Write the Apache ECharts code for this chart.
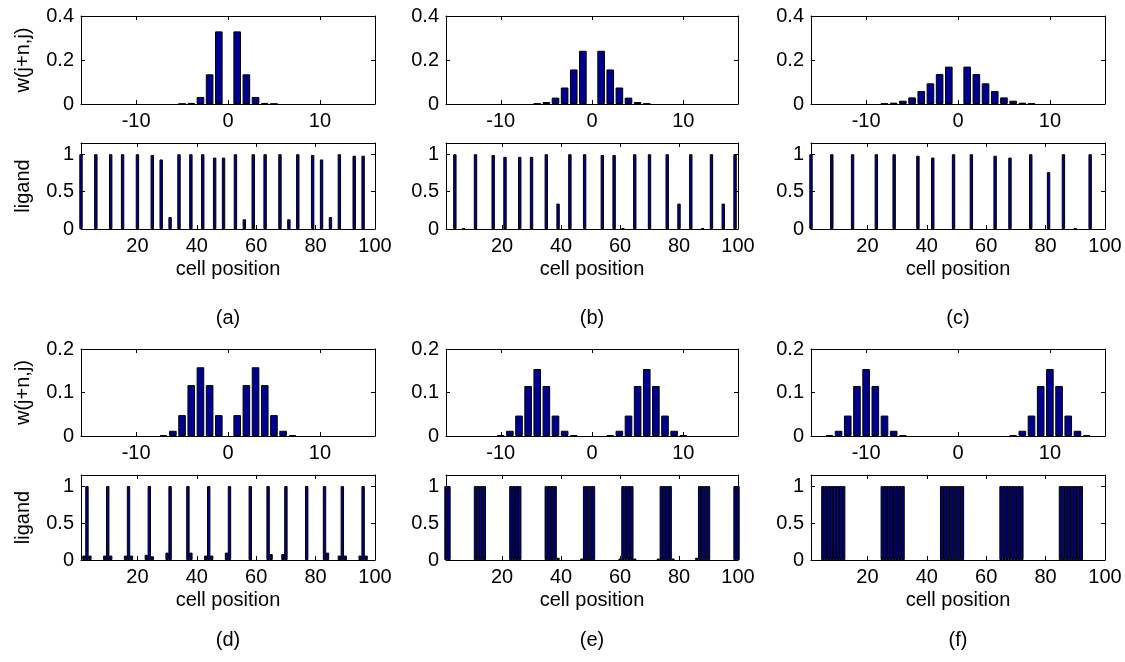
<!DOCTYPE html>
<html>
  <head>
    <meta charset="utf-8" />
    <script src="https://cdn.jsdelivr.net/npm/echarts@6.0.0/dist/echarts.min.js"></script>
    <style>
      html, body { margin: 0; padding: 0; background: #fff; }
      #main { width: 1125px; height: 662px; }
    </style>
  </head>

  <body>
    <div id="main"></div>
    <script type="text/javascript">
      // neighbour offset n for the weight plots
      var wPos = [-15,-14,-13,-12,-11,-10,-9,-8,-7,-6,-5,-4,-3,-2,-1,0,1,2,3,4,5,6,7,8,9,10,11,12,13,14,15];

      // weights w(j+n,j), one value per entry of wPos
      var wA = [0,0,0,0,0,0,0,0,0,0, 0.001,0.005,0.032,0.135,0.33, 0, 0.33,0.135,0.032,0.005,0.001, 0,0,0,0,0,0,0,0,0,0];
      var wB = [0,0,0,0,0,0,0,0,0, 0.002,0.009,0.029,0.075,0.157,0.242, 0, 0.242,0.157,0.075,0.029,0.009,0.002, 0,0,0,0,0,0,0,0,0];
      var wC = [0,0,0,0,0,0,0, 0.002,0.006,0.015,0.03,0.059,0.094,0.136,0.17, 0, 0.17,0.136,0.094,0.059,0.03,0.015,0.006,0.002, 0,0,0,0,0,0,0];
      var wD = [0,0,0,0,0,0,0,0, 0.002,0.012,0.048,0.117,0.158,0.117,0.048, 0, 0.048,0.117,0.158,0.117,0.048,0.012,0.002, 0,0,0,0,0,0,0,0];
      var wE = [0,0,0,0,0, 0.002,0.012,0.047,0.115,0.154,0.115,0.047,0.012,0.002, 0,0,0, 0.002,0.012,0.047,0.115,0.154,0.115,0.047,0.012,0.002, 0,0,0,0,0];
      var wF = [0, 0.002,0.012,0.047,0.115,0.154,0.115,0.047,0.012,0.002, 0,0,0,0,0,0,0,0,0,0,0, 0.002,0.012,0.047,0.115,0.154,0.115,0.047,0.012,0.002, 0];

      // ligand per cell position (cells not listed are empty)
      var ligPosA = [1,6,11,15,20,25,28,31,34,38,42,46,49,53,56,59,63,68,71,74,79,82,85,88,93,96];
      var ligValA = [1,1,1,1,1,0.99,0.93,0.16,1,1,1,0.955,0.955,1,0.13,1,1,1,0.13,1,0.99,0.93,0.16,1,0.98,0.98];

      var ligPosB = [4,7,11,17,21,26,30,35,39,43,48,54,58,61,65,70,76,80,84,88,91,95,99];
      var ligValB = [1,0.01,1,0.99,0.965,0.965,0.965,1,0.34,1,1,0.99,0.99,0.01,1,1,1,0.34,1,0.01,1,0.34,1];

      var ligPosC = [1,8,15,23,29,37,42,49,55,63,68,75,81,86,90,95];
      var ligValC = [1,1,1,1,1,0.98,0.955,1,1,0.98,0.955,1,0.76,1,0.01,1];

      var ligPosD = [2,3,4, 9,10,11, 16,17,18, 23,24,25, 30,31, 37,38, 43,44,45, 50,51, 58, 64,65, 69,70, 77, 83,84, 88,89,90, 95,96,97];
      var ligValD = [0.06,1,0.06, 0.06,1,0.06, 0.06,1,0.06, 0.07,1,0.05, 0.1,1, 1,0.1, 0.06,1,0.06, 0.1,1, 1, 1,0.08, 0.08,1, 1, 1,0.1, 0.06,1,0.06, 0.06,1,0.06];

      var ligPosE = [1,2, 11,12,13,14, 23,24,25,26, 35,36,37,38,39, 47,48,49,50,51, 60,61,62,63,64,65, 73,74,75,76,77,78, 86,87,88,89,90, 99,100];
      var ligValE = [1,1, 1,1,1,1, 1,1,1,1, 1,1,1,1,0.03, 0.02,1,1,1,1, 0.02,1,1,1,1,0.02, 0.02,1,1,1,1,0.02, 0.03,1,1,1,1, 1,1];

      var ligPosF = [5,6,7,8,9,10,11,12, 25,26,27,28,29,30,31,32, 45,46,47,48,49,50,51,52, 65,66,67,68,69,70,71,72, 85,86,87,88,89,90,91,92];
      var ligValF = [1,1,1,1,1,1,1,1, 1,1,1,1,1,1,1,1, 1,1,1,1,1,1,1,1, 1,1,1,1,1,1,1,1, 1,1,1,1,1,1,1,1];

      var wTicksTop = [0, 0.2, 0.4];
      var wTicksBottom = [0, 0.1, 0.2];
      var wXTicks = [-10, 0, 10];
      var ligXTicks = [20, 40, 60, 80, 100];
      var ligYTicks = [0, 0.5, 1];
      var captions = ['(a)', '(b)', '(c)', '(d)', '(e)', '(f)'];

      var panels = [
        { w: wA, lp: ligPosA, lv: ligValA, wMax: 0.4, wTicks: wTicksTop },
        { w: wB, lp: ligPosB, lv: ligValB, wMax: 0.4, wTicks: wTicksTop },
        { w: wC, lp: ligPosC, lv: ligValC, wMax: 0.4, wTicks: wTicksTop },
        { w: wD, lp: ligPosD, lv: ligValD, wMax: 0.2, wTicks: wTicksBottom },
        { w: wE, lp: ligPosE, lv: ligValE, wMax: 0.2, wTicks: wTicksBottom },
        { w: wF, lp: ligPosF, lv: ligValF, wMax: 0.2, wTicks: wTicksBottom }
      ];

      var colLeft = [81, 446, 811];
      var colWidth = [294, 292, 294];
      var wTop = [16, 349], wHeight = [88, 87];
      var lTop = [143, 475], lHeight = [86, 85];
      var capY = [318, 640];

      var FONT = 'Arial, "Liberation Sans", sans-serif';
      var txt = { color: '#000', fontSize: 20, fontFamily: FONT };

      function axisPair(dir, gi, min, max, ticks, showLabels, name, nameGap) {
        var main = {
          type: 'value', gridIndex: gi, min: min, max: max,
          position: dir === 'x' ? 'bottom' : 'left',
          splitLine: { show: false },
          axisLine: { onZero: false, lineStyle: { color: '#000', width: 1 } },
          axisTick: { inside: true, length: 4, customValues: ticks, lineStyle: { color: '#000' } },
          axisLabel: Object.assign({ show: showLabels, margin: 7, customValues: ticks }, txt)
        };
        if (name) {
          main.name = name;
          main.nameLocation = 'middle';
          main.nameGap = nameGap;
          main.nameTextStyle = txt;
        }
        var mirror = {
          type: 'value', gridIndex: gi, min: min, max: max,
          position: dir === 'x' ? 'top' : 'right',
          splitLine: { show: false },
          axisLine: { onZero: false, lineStyle: { color: '#000', width: 1 } },
          axisTick: { inside: true, length: 4, customValues: ticks, lineStyle: { color: '#000' } },
          axisLabel: { show: false }
        };
        return [main, mirror];
      }

      function pairs(xs, ys) {
        var out = [];
        xs.forEach(function (x, i) { if (ys[i] > 0) out.push([x, ys[i]]); });
        return out;
      }

      var grids = [], xAxes = [], yAxes = [], series = [], graphics = [];
      var barStyle = { color: '#000090', borderColor: '#000', borderWidth: 1 };

      panels.forEach(function (p, k) {
        var row = Math.floor(k / 3), col = k % 3;
        var gw = grids.length, gl = gw + 1;

        grids.push({ left: colLeft[col], top: wTop[row], width: colWidth[col], height: wHeight[row] });
        grids.push({ left: colLeft[col], top: lTop[row], width: colWidth[col], height: lHeight[row] });

        xAxes = xAxes.concat(axisPair('x', gw, -16, 16, wXTicks, true));
        yAxes = yAxes.concat(axisPair('y', gw, 0, p.wMax, p.wTicks, true, col === 0 ? 'w(j+n,j)' : null, 48));
        xAxes = xAxes.concat(axisPair('x', gl, 1, 100, ligXTicks, true, 'cell position', 30));
        yAxes = yAxes.concat(axisPair('y', gl, 0, 1.15, ligYTicks, true, col === 0 ? 'ligand' : null, 48));

        series.push({
          type: 'bar', xAxisIndex: gw * 2, yAxisIndex: gw * 2,
          barWidth: 7.6, itemStyle: barStyle,
          data: pairs(wPos, p.w)
        });
        series.push({
          type: 'bar', xAxisIndex: gl * 2, yAxisIndex: gl * 2,
          barWidth: 3.4, itemStyle: barStyle,
          data: pairs(p.lp, p.lv)
        });

        graphics.push({
          type: 'text', x: colLeft[col] + colWidth[col] / 2, y: capY[row],
          style: { text: captions[k], fill: '#000', font: '20px ' + FONT, align: 'center', verticalAlign: 'middle' }
        });
      });

      var myChart = echarts.init(document.getElementById('main'));
      myChart.setOption({
        animation: false,
        backgroundColor: '#fff',
        grid: grids,
        xAxis: xAxes,
        yAxis: yAxes,
        series: series,
        graphic: graphics
      });
    </script>
  </body>

</html>
